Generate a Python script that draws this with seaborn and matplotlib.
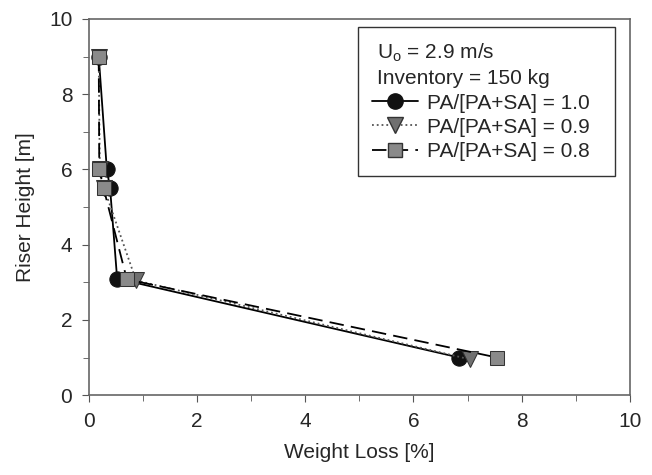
import matplotlib
matplotlib.use("Agg")
import matplotlib.pyplot as plt
import seaborn as sns
import pandas as pd
from matplotlib.lines import Line2D
from matplotlib.ticker import MultipleLocator

# riser heights [m]
height = [9.0, 6.0, 5.5, 3.1, 1.0]
height_09 = [9.0, 6.0, 5.5, 3.05, 0.95]
height_08 = [9.0, 6.0, 5.5, 3.08, 1.0]
# weight loss [%] per PA/[PA+SA] ratio
loss_10 = [0.18, 0.33, 0.39, 0.52, 6.85]
loss_09 = [0.18, 0.20, 0.28, 0.87, 7.05]
loss_08 = [0.18, 0.19, 0.27, 0.70, 7.55]
labels = ["PA/[PA+SA] = 1.0", "PA/[PA+SA] = 0.9", "PA/[PA+SA] = 0.8"]

sns.set_style("white")
plt.rcParams["font.family"] = ["Liberation Sans", "DejaVu Sans"]

fig = plt.figure(figsize=(6.52, 4.75), dpi=100)
ax = fig.add_axes([0.1365, 0.168, 0.8295, 0.792])

styles = [
    dict(color="black", linestyle="-", marker="o", markersize=11,
         markerfacecolor="#111111", markeredgecolor="#111111"),
    dict(color="#555555", linestyle=":", marker="v", markersize=11,
         markerfacecolor="#707070", markeredgecolor="#333333"),
    dict(color="black", linestyle=(0, (8, 4)), marker="s", markersize=10,
         markerfacecolor="#8a8a8a", markeredgecolor="#333333"),
]
series = [(loss_10, height), (loss_09, height_09), (loss_08, height_08)]

for (xs, ys), st in zip(series, styles):
    df = pd.DataFrame({"loss": xs, "h": ys})
    sns.lineplot(data=df, x="loss", y="h", sort=False, ax=ax, linewidth=1.3,
                 **st)

ax.set_xlim(0, 10)
ax.set_ylim(0, 10)
ax.xaxis.set_major_locator(MultipleLocator(2))
ax.xaxis.set_minor_locator(MultipleLocator(1))
ax.yaxis.set_major_locator(MultipleLocator(2))
ax.yaxis.set_minor_locator(MultipleLocator(1))
ax.tick_params(which="both", direction="out", color="#555555", bottom=True,
               left=True, labelsize=15, pad=7)
ax.tick_params(which="major", length=5)
ax.tick_params(which="minor", length=4)
for s in ax.spines.values():
    s.set_color("#666666")
    s.set_linewidth(1.2)

ax.set_xlabel("Weight Loss [%]", fontsize=15, labelpad=9)
ax.set_ylabel("Riser Height [m]", fontsize=15, labelpad=10)

blank = Line2D([], [], linestyle="none")
handles = [blank, blank]
for st in styles:
    handles.append(Line2D([], [], linewidth=1.3, **st))
leg = ax.legend(handles, [r"U$_\mathregular{o}$ = 2.9 m/s", "Inventory = 150 kg"] + labels,
                loc="upper right", fontsize=15, frameon=True, fancybox=False,
                edgecolor="black", handlelength=2.2, handletextpad=0.45,
                labelspacing=0.25, borderpad=0.7, borderaxespad=0,
                bbox_to_anchor=(0.972, 0.979))
leg.get_frame().set_linewidth(1.0)
for t in leg.get_texts()[:2]:
    t.set_x(-50)

fig.savefig("out.png", dpi=100)
